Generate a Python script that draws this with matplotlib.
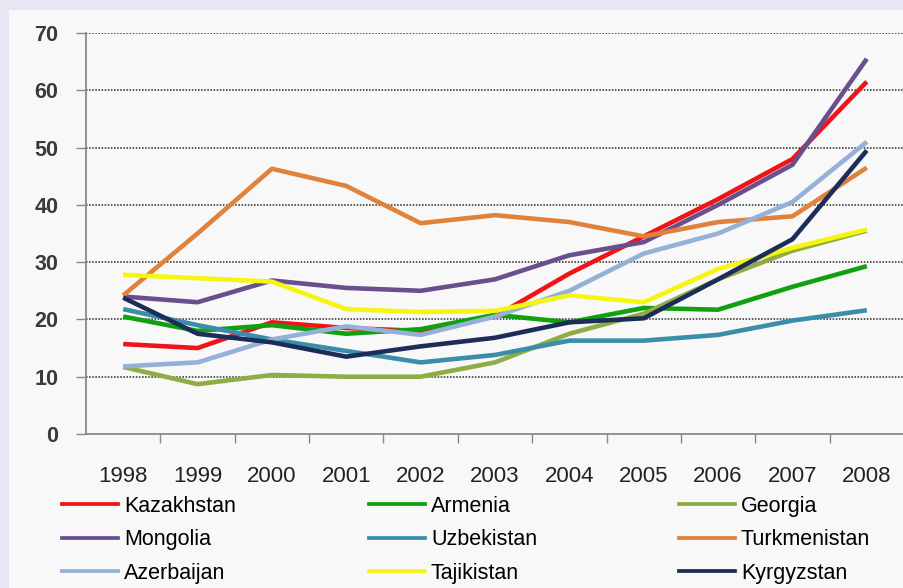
"""Share of ... by country, 1998-2008 (Excel-style line chart)."""

import matplotlib

matplotlib.use("Agg")
import matplotlib.pyplot as plt
from matplotlib.lines import Line2D
from matplotlib.patches import Rectangle

YEARS = ["1998", "1999", "2000", "2001", "2002", "2003", "2004", "2005", "2006", "2007", "2008"]

COUNTRIES = [
    "Kazakhstan", "Armenia", "Georgia",
    "Mongolia", "Uzbekistan", "Turkmenistan",
    "Azerbaijan", "Tajikistan", "Kyrgyzstan",
]

kazakhstan = [15.7, 15.0, 19.5, 18.5, 18.0, 20.5, 28.0, 34.5, 41.0, 48.0, 61.5]
armenia = [20.5, 18.0, 19.0, 17.5, 18.3, 20.8, 19.5, 22.0, 21.7, 25.7, 29.3]
georgia = [11.7, 8.7, 10.3, 10.0, 10.0, 12.5, 17.5, 21.0, 27.0, 32.0, 35.5]
mongolia = [24.0, 23.0, 26.8, 25.5, 25.0, 27.0, 31.2, 33.5, 40.0, 47.0, 65.5]
uzbekistan = [21.8, 19.0, 16.5, 14.5, 12.5, 13.8, 16.3, 16.3, 17.3, 19.8, 21.6]
turkmenistan = [24.2, 35.0, 46.3, 43.3, 36.8, 38.2, 37.0, 34.5, 37.0, 38.0, 46.5]
azerbaijan = [11.8, 12.5, 16.5, 18.8, 17.3, 20.5, 25.0, 31.5, 35.0, 40.5, 51.0]
tajikistan = [27.8, 27.2, 26.6, 21.8, 21.3, 21.5, 24.2, 23.0, 28.8, 32.5, 35.7]
kyrgyzstan = [23.8, 17.5, 16.0, 13.5, 15.3, 16.8, 19.5, 20.2, 27.0, 34.0, 49.5]

SERIES = [kazakhstan, armenia, georgia, mongolia, uzbekistan,
          turkmenistan, azerbaijan, tajikistan, kyrgyzstan]

COLORS = [
    "#f01418", "#10a010", "#8fac45",
    "#6a4f8f", "#3a8eaa", "#e0823c",
    "#95b1d8", "#f5f510", "#1c2d5a",
]

Y_TICKS = [0, 10, 20, 30, 40, 50, 60, 70]

W, H = 904, 588
FONT = "Liberation Sans"


def fx(px):
    return px / W


def fy(py):
    return 1 - py / H


def main():
    fig = plt.figure(figsize=(W / 100, H / 100), dpi=100)
    fig.patch.set_facecolor("#e7e7f4")
    fig.patches.append(Rectangle((fx(9), 0), 1 - fx(9), fy(10), transform=fig.transFigure,
                                 facecolor="#f8f8f8", edgecolor="none", zorder=-10))

    ax = fig.add_axes([fx(86), fy(434), 1 - fx(86), fy(33) - fy(434)])
    ax.set_facecolor("none")

    x = list(range(len(YEARS)))
    for vals, color, name in zip(SERIES, COLORS, COUNTRIES):
        ax.plot(x, vals, color=color, lw=3.3, label=name, solid_capstyle="butt", zorder=3)

    ax.set_xlim(-0.5, len(YEARS) - 0.5)
    ax.set_ylim(0, 70)

    ax.set_yticks(Y_TICKS)
    ax.set_yticklabels([str(t) for t in Y_TICKS], fontsize=15.5, fontweight="bold",
                       color="#3a3a3a", family=FONT)
    ax.tick_params(axis="y", length=7, width=1, color="#888888", pad=13)
    for t in Y_TICKS[1:]:
        ax.axhline(t, color="#555555", lw=1.4, ls=(0, (0.8, 0.8)), zorder=1)

    ax.set_xticks([i - 0.5 for i in range(1, len(YEARS) + 1)])
    ax.set_xticklabels([])
    ax.tick_params(axis="x", which="major", length=6.5, width=1, color="#888888")
    ax.set_xticks(x, minor=True)
    ax.set_xticklabels(YEARS, minor=True, fontsize=16, color="#222222", family=FONT)
    ax.tick_params(axis="x", which="minor", length=0, pad=23)

    for side in ("top", "right"):
        ax.spines[side].set_visible(False)
    for side in ("left", "bottom"):
        ax.spines[side].set_color("#8a8a8a")
        ax.spines[side].set_linewidth(1.3)

    # legend: three columns, filled row by row
    col_x = [62, 369, 679]
    for c in range(3):
        idx = [c, c + 3, c + 6]
        handles = [Line2D([], [], color=COLORS[i], lw=2.7) for i in idx]
        labels = [COUNTRIES[i] for i in idx]
        fig.legend(handles, labels, loc="upper left", bbox_to_anchor=(fx(col_x[c]), fy(496)),
                   frameon=False, borderpad=0, borderaxespad=0, handlelength=2.6,
                   handletextpad=0.28, labelspacing=0.58,
                   prop={"family": FONT, "size": 15.5})

    fig.savefig("out.png", dpi=100, facecolor=fig.get_facecolor())


if __name__ == "__main__":
    main()
